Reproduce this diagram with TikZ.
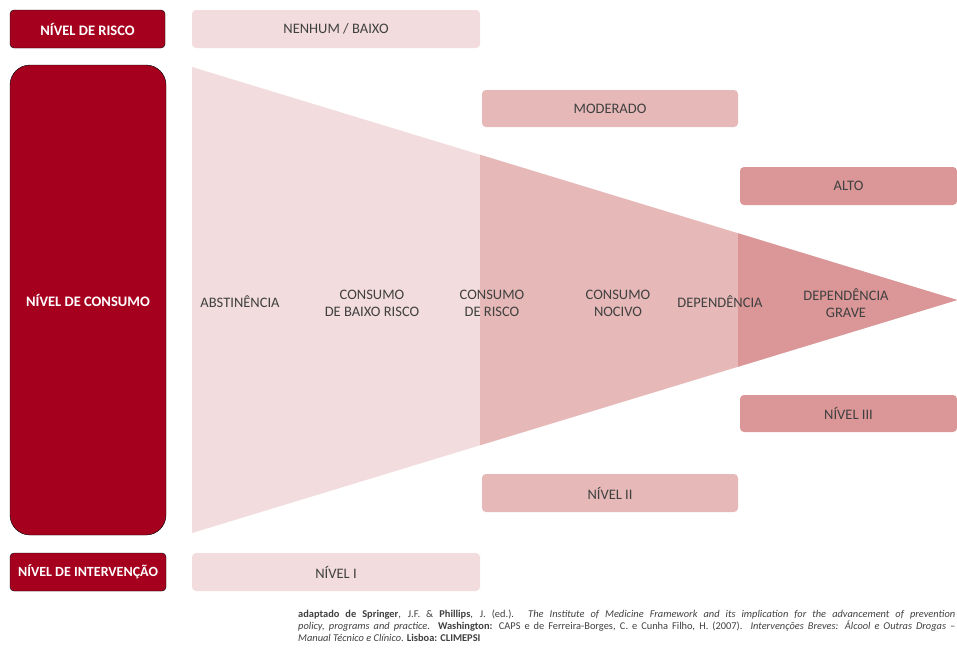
\documentclass[tikz,border=0pt]{standalone}
\usepackage{fontspec}
\setmainfont{Carlito}
\definecolor{darkred}{HTML}{A6001F}
\definecolor{pinkA}{HTML}{F2DCDD}
\definecolor{pinkB}{HTML}{E6B9B8}
\definecolor{pinkC}{HTML}{DB9697}
\definecolor{txt}{HTML}{404040}
\begin{document}
\begin{tikzpicture}[x=1pt,y=-1pt,
  hdr/.style={fill=darkred,rounded corners=4pt,text=white,font=\fontsize{14.5}{16}\selectfont\bfseries},
  lvl/.style={rounded corners=4pt},
  lvltxt/.style={text=txt,font=\fontsize{14.5}{16}\selectfont},
  lab/.style={text=txt,font=\fontsize{14.5}{17}\selectfont,align=center}]
\useasboundingbox (0,0) rectangle (957,653);
\fill[white] (0,0) rectangle (957,653);
% header boxes
\draw[hdr] (10,10) rectangle (165,48) node[midway] (risco) {NÍVEL DE RISCO};
\draw[hdr,rounded corners=20pt] (10,65) rectangle (166,535) node[midway] (consumo) {NÍVEL DE CONSUMO};
\draw[hdr] (10,553) rectangle (166,591) node[midway,font=\fontsize{14}{16}\selectfont\bfseries] (interv) {NÍVEL DE INTERVENÇÃO};
% level boxes
\fill[lvl,fill=pinkA] (192,10) rectangle (480,48) node[midway,lvltxt] (baixo) {NENHUM / BAIXO};
\fill[lvl,fill=pinkB] (482,90) rectangle (738,127) node[midway,lvltxt] (moderado) {MODERADO};
\fill[lvl,fill=pinkC] (740,167) rectangle (957,205) node[midway,lvltxt] (alto) {ALTO};
\fill[lvl,fill=pinkC] (740,395) rectangle (957,432) node[midway,lvltxt] (n3) {NÍVEL III};
\fill[lvl,fill=pinkB] (482,474) rectangle (738,512) node[midway,lvltxt] (n2) {NÍVEL II};
\fill[lvl,fill=pinkA] (192,553) rectangle (480,591) node[midway,lvltxt] (n1) {NÍVEL I};
% triangle
\fill[pinkA] (192,67) -- (957,300) -- (192,533) -- cycle;
\begin{scope}
\clip (480,0) rectangle (957,653);
\fill[pinkB] (192,67) -- (957,300) -- (192,533) -- cycle;
\end{scope}
\begin{scope}
\clip (738,0) rectangle (957,653);
\fill[pinkC] (192,67) -- (957,300) -- (192,533) -- cycle;
\end{scope}
% labels
\node[lab] (abst) at (240,302) {ABSTINÊNCIA};
\node[lab] (baixorisco) at (372,303) {CONSUMO\\DE BAIXO RISCO};
\node[lab] (risco2) at (492,303) {CONSUMO\\DE RISCO};
\node[lab] (nocivo) at (618,303) {CONSUMO\\NOCIVO};
\node[lab] (dep) at (720,302) {DEPENDÊNCIA};
\node[lab] (grave) at (846,303) {DEPENDÊNCIA\\GRAVE};
% citation
\node[anchor=north west,inner sep=0pt,text width=657pt,align=justify,text=txt,
  font=\fontsize{10.4}{12}\selectfont] (cit) at (298,610)
 {\textbf{adaptado de Springer}, J.F. \& \textbf{Phillips}, J. (ed.). \textit{The Institute of Medicine Framework and its implication for the advancement of prevention}\linebreak \textit{policy, programs and practice}. \textbf{Washington:} CAPS e de Ferreira-Borges, C. e Cunha Filho, H. (2007). \textit{Intervenções Breves: Álcool e Outras Drogas –}\linebreak \textit{Manual Técnico e Clínico}. \textbf{Lisboa: CLIMEPSI}};
\end{tikzpicture}
\end{document}
